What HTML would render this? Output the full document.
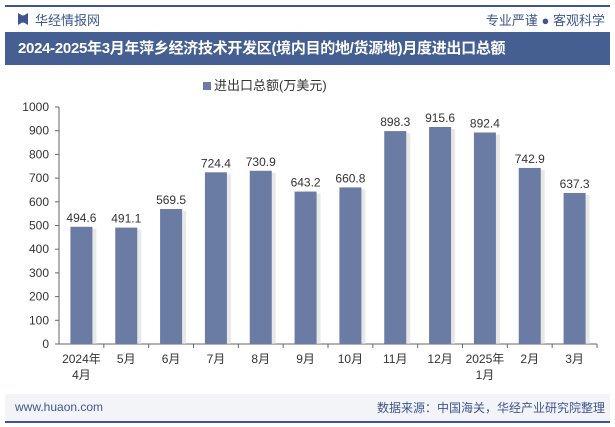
<!DOCTYPE html>
<html><head><meta charset="utf-8"><style>
body{margin:0;width:615px;height:427px;background:#fff;font-family:"Liberation Sans","Noto Sans CJK SC",sans-serif;overflow:hidden;position:relative}
.a{position:absolute}
</style></head><body>
<div class="a" style="left:5px;top:5px;width:605px;height:2px;background:#3d5690"></div>
<div class="a" style="left:18px;top:13px;width:10px;height:12px;background:#3d5690;clip-path:polygon(0 0,40% 20%,60% 20%,100% 0,100% 100%,60% 80%,40% 80%,0 100%)"></div>
<div class="a" style="left:35px;top:10px;font-size:13px;color:#3d5690">华经情报网</div>
<div class="a" style="right:10px;top:10px;font-size:13px;color:#3d5690">专业严谨 ● 客观科学</div>
<div class="a" style="left:5px;top:32px;width:605px;height:33px;background:#455f93;color:#fff;font-size:15px;font-weight:bold;line-height:33px;text-align:left;padding-left:13px;box-sizing:border-box;letter-spacing:-0.3px">2024-2025年3月年萍乡经济技术开发区(境内目的地/货源地)月度进出口总额</div>
<div class="a" style="left:203px;top:75px;font-size:13px;color:#333"><span style="display:inline-block;width:8px;height:8px;background:#6a7ba4;margin-right:3px"></span>进出口总额(万美元)</div>
<svg class="a" style="left:0;top:0" width="615" height="427">
<g id="g" font-family="Liberation Sans, Noto Sans CJK SC, sans-serif" font-size="12" fill="#333"></g>
</svg>
<div class="a" style="left:5px;top:394px;width:605px;height:27px;background:#f3f4f8"></div>
<div class="a" style="left:15px;top:400px;font-size:12px;color:#3d5690">www.huaon.com</div>
<div class="a" style="right:10px;top:399px;font-size:12px;color:#3d5690">数据来源：中国海关，华经产业研究院整理</div>
<div class="a" style="left:5px;top:421px;width:605px;height:2px;background:#3d5690"></div>
<script>
const categories=["2024年|4月","5月","6月","7月","8月","9月","10月","11月","12月","2025年|1月","2月","3月"];
const values=[494.6,491.1,569.5,724.4,730.9,643.2,660.8,898.3,915.6,892.4,742.9,637.3];
const ticks=[0,100,200,300,400,500,600,700,800,900,1000];
const X0=59,X1=597,Y0=344,Y1=107,MAX=1000;
const y=v=>Y0-(v/MAX)*(Y0-Y1);
const bw=(X1-X0)/categories.length;
const x=i=>X0+bw*(i+0.5);
const g=document.getElementById('g');const NS='http://www.w3.org/2000/svg';
function mk(t,a,txt){const e=document.createElementNS(NS,t);for(const k in a)e.setAttribute(k,a[k]);if(txt!=null)e.textContent=txt;g.appendChild(e);return e;}
let e=mk('line',{x1:X0,x2:X0,y1:Y1,y2:Y0,stroke:'#666'});


e=mk('line',{x1:X0,x2:X1,y1:Y0,y2:Y0,stroke:'#666'});


ticks.forEach(t=>{
 e=mk('text',{x:X0-10,y:y(t)+4,'text-anchor':'end'},t);
 
 
 mk('line',{x1:X0-4,x2:X0,y1:y(t),y2:y(t),stroke:'#666'});
});
values.forEach((v,i)=>{
 const cx=x(i);
 mk('rect',{x:cx-9,y:y(v)+2,width:24,height:Y0-y(v)-2,fill:'#d8d8d8',opacity:0.6});
 e=mk('rect',{x:cx-11,y:y(v),width:22,height:Y0-y(v),fill:'#6a7ba4'});
 
 
 e=mk('text',{x:cx,y:y(v)-5,'text-anchor':'middle'},v.toFixed(1));
 
 
 mk('line',{x1:X0+bw*(i+1),x2:X0+bw*(i+1),y1:Y0,y2:Y0+4,stroke:'#666'});
 categories[i].split('|').forEach((s,j)=>{
  e=mk('text',{x:cx,y:Y0+19+j*16,'text-anchor':'middle'},s);
  
  
 });
});
</script>
</body></html>
